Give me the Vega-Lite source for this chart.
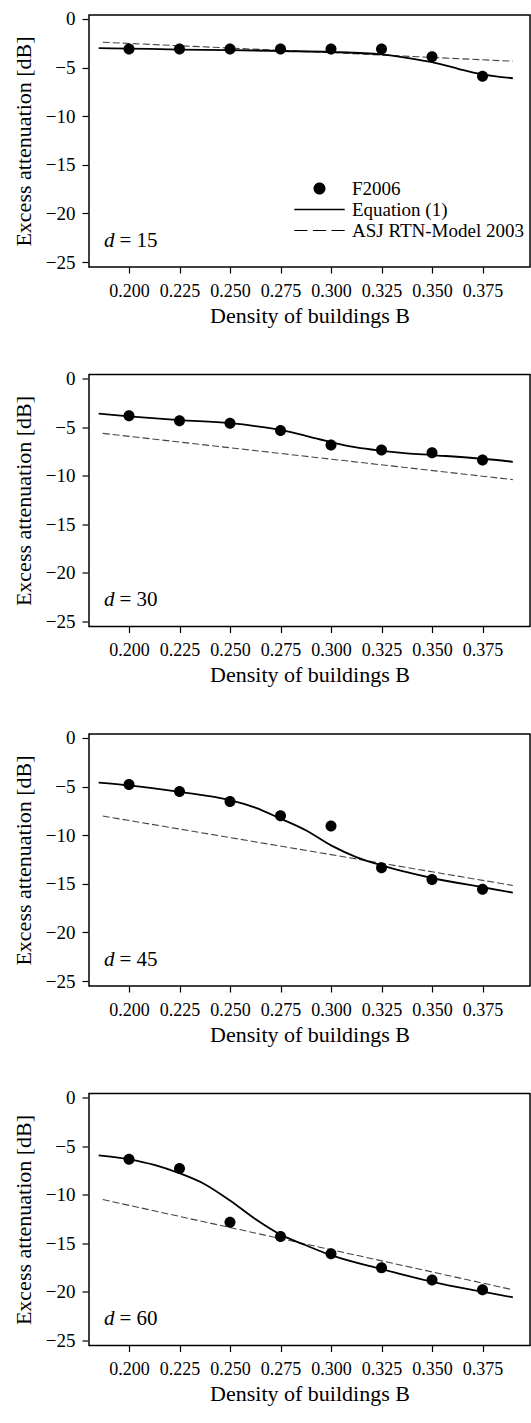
{
  "$schema": "https://vega.github.io/schema/vega-lite/v6.json",
  "padding": {"left": 12, "top": 9, "right": 0, "bottom": 0},
  "background": "white",
  "data": {"values": [
    {"d": 15, "s": "F2006", "B": 0.2, "E": -3.1},
    {"d": 15, "s": "F2006", "B": 0.225, "E": -3.1},
    {"d": 15, "s": "F2006", "B": 0.25, "E": -3.1},
    {"d": 15, "s": "F2006", "B": 0.275, "E": -3.1},
    {"d": 15, "s": "F2006", "B": 0.3, "E": -3.1},
    {"d": 15, "s": "F2006", "B": 0.325, "E": -3.1},
    {"d": 15, "s": "F2006", "B": 0.35, "E": -3.9},
    {"d": 15, "s": "F2006", "B": 0.375, "E": -5.9},
    {"d": 15, "s": "Equation (1)", "B": 0.185, "E": -3.0},
    {"d": 15, "s": "Equation (1)", "B": 0.2, "E": -3.05},
    {"d": 15, "s": "Equation (1)", "B": 0.225, "E": -3.15},
    {"d": 15, "s": "Equation (1)", "B": 0.25, "E": -3.2},
    {"d": 15, "s": "Equation (1)", "B": 0.275, "E": -3.3},
    {"d": 15, "s": "Equation (1)", "B": 0.3, "E": -3.4},
    {"d": 15, "s": "Equation (1)", "B": 0.325, "E": -3.65},
    {"d": 15, "s": "Equation (1)", "B": 0.3375, "E": -4.0},
    {"d": 15, "s": "Equation (1)", "B": 0.35, "E": -4.45},
    {"d": 15, "s": "Equation (1)", "B": 0.3625, "E": -5.1},
    {"d": 15, "s": "Equation (1)", "B": 0.375, "E": -5.7},
    {"d": 15, "s": "Equation (1)", "B": 0.39, "E": -6.1},
    {"d": 15, "s": "ASJ RTN-Model 2003", "B": 0.187, "E": -2.4},
    {"d": 15, "s": "ASJ RTN-Model 2003", "B": 0.3, "E": -3.47},
    {"d": 15, "s": "ASJ RTN-Model 2003", "B": 0.39, "E": -4.35},
    {"d": 15, "s": "label", "t": "= 15"},

    {"d": 30, "s": "F2006", "B": 0.2, "E": -3.85},
    {"d": 30, "s": "F2006", "B": 0.225, "E": -4.35},
    {"d": 30, "s": "F2006", "B": 0.25, "E": -4.6},
    {"d": 30, "s": "F2006", "B": 0.275, "E": -5.35},
    {"d": 30, "s": "F2006", "B": 0.3, "E": -6.85},
    {"d": 30, "s": "F2006", "B": 0.325, "E": -7.35},
    {"d": 30, "s": "F2006", "B": 0.35, "E": -7.65},
    {"d": 30, "s": "F2006", "B": 0.375, "E": -8.4},
    {"d": 30, "s": "Equation (1)", "B": 0.185, "E": -3.63},
    {"d": 30, "s": "Equation (1)", "B": 0.2, "E": -3.9},
    {"d": 30, "s": "Equation (1)", "B": 0.225, "E": -4.28},
    {"d": 30, "s": "Equation (1)", "B": 0.25, "E": -4.6},
    {"d": 30, "s": "Equation (1)", "B": 0.2625, "E": -4.9},
    {"d": 30, "s": "Equation (1)", "B": 0.275, "E": -5.3},
    {"d": 30, "s": "Equation (1)", "B": 0.2875, "E": -5.9},
    {"d": 30, "s": "Equation (1)", "B": 0.3, "E": -6.55},
    {"d": 30, "s": "Equation (1)", "B": 0.3125, "E": -7.1},
    {"d": 30, "s": "Equation (1)", "B": 0.325, "E": -7.44},
    {"d": 30, "s": "Equation (1)", "B": 0.3375, "E": -7.7},
    {"d": 30, "s": "Equation (1)", "B": 0.35, "E": -7.88},
    {"d": 30, "s": "Equation (1)", "B": 0.375, "E": -8.26},
    {"d": 30, "s": "Equation (1)", "B": 0.39, "E": -8.57},
    {"d": 30, "s": "ASJ RTN-Model 2003", "B": 0.187, "E": -5.65},
    {"d": 30, "s": "ASJ RTN-Model 2003", "B": 0.3, "E": -8.3},
    {"d": 30, "s": "ASJ RTN-Model 2003", "B": 0.39, "E": -10.4},
    {"d": 30, "s": "label", "t": "= 30"},

    {"d": 45, "s": "F2006", "B": 0.2, "E": -4.8},
    {"d": 45, "s": "F2006", "B": 0.225, "E": -5.5},
    {"d": 45, "s": "F2006", "B": 0.25, "E": -6.55},
    {"d": 45, "s": "F2006", "B": 0.275, "E": -8.0},
    {"d": 45, "s": "F2006", "B": 0.3, "E": -9.05},
    {"d": 45, "s": "F2006", "B": 0.325, "E": -13.35},
    {"d": 45, "s": "F2006", "B": 0.35, "E": -14.55},
    {"d": 45, "s": "F2006", "B": 0.375, "E": -15.55},
    {"d": 45, "s": "Equation (1)", "B": 0.185, "E": -4.6},
    {"d": 45, "s": "Equation (1)", "B": 0.2, "E": -4.88},
    {"d": 45, "s": "Equation (1)", "B": 0.225, "E": -5.55},
    {"d": 45, "s": "Equation (1)", "B": 0.25, "E": -6.4},
    {"d": 45, "s": "Equation (1)", "B": 0.2625, "E": -7.17},
    {"d": 45, "s": "Equation (1)", "B": 0.275, "E": -8.3},
    {"d": 45, "s": "Equation (1)", "B": 0.2875, "E": -9.5},
    {"d": 45, "s": "Equation (1)", "B": 0.3, "E": -11.05},
    {"d": 45, "s": "Equation (1)", "B": 0.3125, "E": -12.25},
    {"d": 45, "s": "Equation (1)", "B": 0.325, "E": -13.1},
    {"d": 45, "s": "Equation (1)", "B": 0.3375, "E": -13.8},
    {"d": 45, "s": "Equation (1)", "B": 0.35, "E": -14.4},
    {"d": 45, "s": "Equation (1)", "B": 0.375, "E": -15.35},
    {"d": 45, "s": "Equation (1)", "B": 0.39, "E": -15.9},
    {"d": 45, "s": "ASJ RTN-Model 2003", "B": 0.187, "E": -8.03},
    {"d": 45, "s": "ASJ RTN-Model 2003", "B": 0.3, "E": -12.0},
    {"d": 45, "s": "ASJ RTN-Model 2003", "B": 0.39, "E": -15.17},
    {"d": 45, "s": "label", "t": "= 45"},

    {"d": 60, "s": "F2006", "B": 0.2, "E": -6.37},
    {"d": 60, "s": "F2006", "B": 0.225, "E": -7.32},
    {"d": 60, "s": "F2006", "B": 0.25, "E": -12.83},
    {"d": 60, "s": "F2006", "B": 0.275, "E": -14.29},
    {"d": 60, "s": "F2006", "B": 0.3, "E": -16.06},
    {"d": 60, "s": "F2006", "B": 0.325, "E": -17.52},
    {"d": 60, "s": "F2006", "B": 0.35, "E": -18.78},
    {"d": 60, "s": "F2006", "B": 0.375, "E": -19.77},
    {"d": 60, "s": "Equation (1)", "B": 0.185, "E": -5.96},
    {"d": 60, "s": "Equation (1)", "B": 0.2, "E": -6.37},
    {"d": 60, "s": "Equation (1)", "B": 0.2125, "E": -6.94},
    {"d": 60, "s": "Equation (1)", "B": 0.225, "E": -7.8},
    {"d": 60, "s": "Equation (1)", "B": 0.2375, "E": -8.92},
    {"d": 60, "s": "Equation (1)", "B": 0.25, "E": -10.6},
    {"d": 60, "s": "Equation (1)", "B": 0.2625, "E": -12.5},
    {"d": 60, "s": "Equation (1)", "B": 0.275, "E": -14.1},
    {"d": 60, "s": "Equation (1)", "B": 0.2875, "E": -15.2},
    {"d": 60, "s": "Equation (1)", "B": 0.3, "E": -16.22},
    {"d": 60, "s": "Equation (1)", "B": 0.325, "E": -17.65},
    {"d": 60, "s": "Equation (1)", "B": 0.35, "E": -18.95},
    {"d": 60, "s": "Equation (1)", "B": 0.375, "E": -19.97},
    {"d": 60, "s": "Equation (1)", "B": 0.39, "E": -20.55},
    {"d": 60, "s": "ASJ RTN-Model 2003", "B": 0.187, "E": -10.5},
    {"d": 60, "s": "ASJ RTN-Model 2003", "B": 0.3, "E": -15.65},
    {"d": 60, "s": "ASJ RTN-Model 2003", "B": 0.39, "E": -19.77},
    {"d": 60, "s": "label", "t": "= 60"}
  ]},
  "facet": {"row": {"field": "d", "type": "ordinal", "title": null, "header": {"labels": false, "title": null}}},
  "spacing": 46.5,
  "resolve": {"axis": {"x": "independent"}},
  "spec": {
    "width": 441,
    "height": 252,
    "layer": [
      {
        "transform": [{"filter": "datum.s == 'ASJ RTN-Model 2003'"}],
        "mark": {"type": "line", "color": "#444444", "strokeWidth": 1.1, "strokeDash": [7, 3]},
        "encoding": {
          "x": {"field": "B", "type": "quantitative",
            "scale": {"domain": [0.1802, 0.3985], "nice": false, "zero": false},
            "axis": {"values": [0.2, 0.225, 0.25, 0.275, 0.3, 0.325, 0.35, 0.375], "format": ".3f", "title": "Density of buildings B", "tickSize": 6, "labelPadding": 9, "titlePadding": 5, "labelFontSize": 18}},
          "y": {"field": "E", "type": "quantitative",
            "scale": {"domain": [-25.5, 0.4], "nice": false, "zero": false},
            "axis": {"values": [0, -5, -10, -15, -20, -25], "title": "Excess attenuation [dB]", "tickSize": 6, "labelPadding": 7, "titlePadding": 10, "labelFontSize": 19}}
        }
      },
      {
        "transform": [{"filter": "datum.s == 'Equation (1)'"}],
        "mark": {"type": "line", "color": "black", "strokeWidth": 1.8, "interpolate": "monotone"},
        "encoding": {
          "x": {"field": "B", "type": "quantitative"},
          "y": {"field": "E", "type": "quantitative"}
        }
      },
      {
        "transform": [{"filter": "datum.s == 'F2006'"}],
        "mark": {"type": "point", "filled": true, "size": 121, "color": "black", "opacity": 1},
        "encoding": {
          "x": {"field": "B", "type": "quantitative"},
          "y": {"field": "E", "type": "quantitative"},
          "shape": {"field": "s", "type": "nominal",
            "scale": {
              "domain": ["F2006", "Equation (1)", "ASJ RTN-Model 2003"],
              "range": [
                "M-1,0A1,1,0,1,1,1,0A1,1,0,1,1,-1,0Z",
                "M-4.2,-0.14L4.2,-0.14L4.2,0.14L-4.2,0.14Z",
                "M-4.2,-0.1L-2.0,-0.1L-2.0,0.1L-4.2,0.1ZM-1.1,-0.1L1.1,-0.1L1.1,0.1L-1.1,0.1ZM2.0,-0.1L4.2,-0.1L4.2,0.1L2.0,0.1Z"
              ]
            },
            "legend": {
              "orient": "none", "legendX": 221, "legendY": 164, "title": null,
              "symbolSize": 144, "labelOffset": 23, "labelFontSize": 19, "labelFont": "Liberation Serif",
              "labelColor": "black", "labelLimit": 0, "rowPadding": 1, "padding": 0,
              "symbolFillColor": "black", "symbolStrokeWidth": 0, "symbolOpacity": 1
            }
          }
        }
      },
      {
        "transform": [{"filter": "datum.s == 'label'"}],
        "mark": {"type": "text", "text": "d", "fontStyle": "italic", "fontSize": 21, "align": "left", "baseline": "middle", "color": "black"},
        "encoding": {"x": {"datum": 0.1876}, "y": {"datum": -22.8}}
      },
      {
        "transform": [{"filter": "datum.s == 'label'"}],
        "mark": {"type": "text", "fontSize": 21, "align": "left", "baseline": "middle", "dx": 15.5, "color": "black"},
        "encoding": {"x": {"datum": 0.1876}, "y": {"datum": -22.8}, "text": {"field": "t", "type": "nominal"}}
      }
    ]
  },
  "config": {
    "font": "Liberation Serif",
    "view": {"stroke": "black", "strokeWidth": 1.5},
    "axis": {
      "domain": false, "grid": false, "ticks": true, "tickColor": "black", "tickWidth": 1.2,
      "labelColor": "black", "titleColor": "black", "labelFont": "Liberation Serif", "titleFont": "Liberation Serif",
      "labelFontSize": 17, "titleFontSize": 22, "titleFontWeight": "normal"
    },
    "text": {"font": "Liberation Serif"}
  }
}
